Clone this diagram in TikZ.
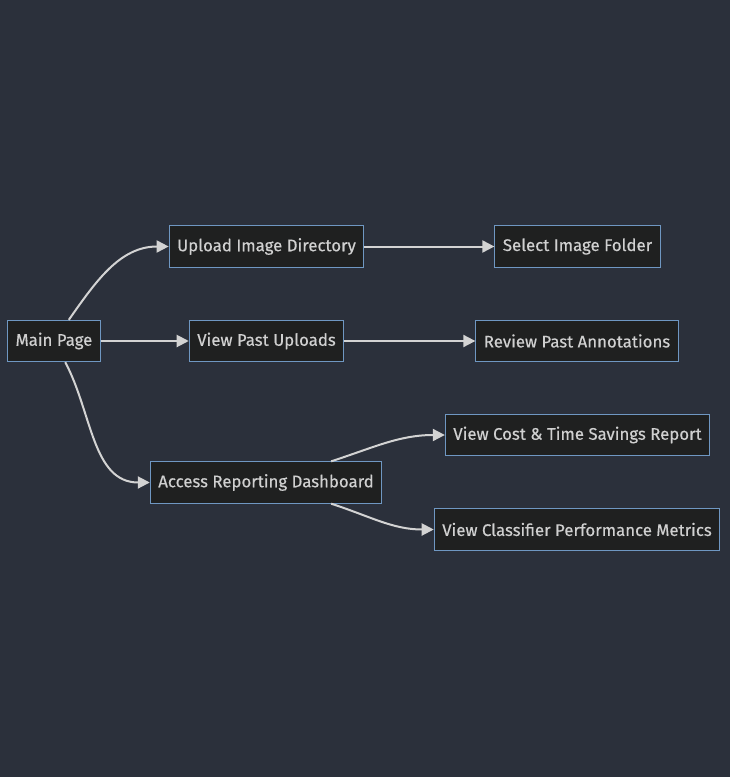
\documentclass[tikz,border=0pt]{standalone}
\usepackage{fontspec}
\setmainfont{Fira Sans}
\usetikzlibrary{arrows.meta}
\definecolor{fondo}{HTML}{2B303B}
\definecolor{caja}{HTML}{1F2020}
\definecolor{borde}{HTML}{6F97C2}
\definecolor{texto}{HTML}{D0D0D0}
\definecolor{linea}{HTML}{D3D3D3}
\begin{document}
\begin{tikzpicture}[x=0.75pt,y=-0.75pt,
    paso/.style={draw=borde,fill=caja,text=texto,line width=0.75pt,
        minimum height=31pt,inner xsep=6pt,
        font=\addfontfeature{FakeBold=0.4}\fontsize{12.6}{14}\selectfont},
    flecha/.style={draw=linea,line width=1.5pt,
        -{Triangle[length=9pt,width=9pt,fill=linea]}}]
    %Fondo
    \fill[fondo] (0,0) rectangle (730,777);
    \useasboundingbox (0,0) rectangle (730,777);

    %Cajas
    \node[paso] (main)   at (54,341)    {Main Page};
    \node[paso] (upload) at (266.5,246.5) {Upload Image Directory};
    \node[paso] (select) at (577.5,246.5) {Select Image Folder};
    \node[paso] (past)   at (266.5,341) {View Past Uploads};
    \node[paso] (review) at (577,341)   {Review Past Annotations};
    \node[paso] (access) at (266,482.5) {Access Reporting Dashboard};
    \node[paso] (cost)   at (577.5,435) {View Cost \& Time Savings Report};
    \node[paso] (metric) at (577,529.5) {View Classifier Performance Metrics};

    %Conexiones
    \draw[flecha] (main) to[out=55,in=180] (upload);
    \draw[flecha] (main) to[out=-62,in=180] (access);
    \foreach \a/\b in {main/past,upload/select,past/review}{
        \draw[flecha] (\a) -- (\b);
    }
    \draw[flecha] (access) to[out=18,in=180] (cost);
    \draw[flecha] (access) to[out=-18,in=180] (metric);
\end{tikzpicture}
\end{document}
